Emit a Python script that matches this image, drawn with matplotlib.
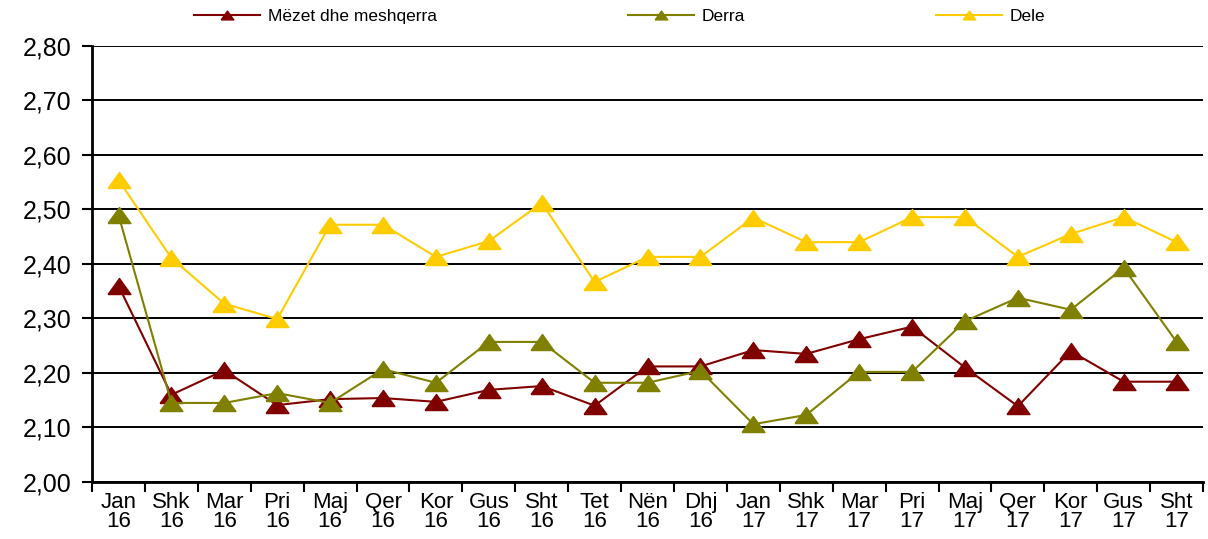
import matplotlib
matplotlib.use("Agg")
import matplotlib.pyplot as plt
import numpy as np

plt.rcParams['font.family'] = ['Liberation Sans', 'DejaVu Sans']

months = ['Jan', 'Shk', 'Mar', 'Pri', 'Maj', 'Qer', 'Kor', 'Gus', 'Sht', 'Tet', 'Nën', 'Dhj',
          'Jan', 'Shk', 'Mar', 'Pri', 'Maj', 'Qer', 'Kor', 'Gus', 'Sht']
years = ['16'] * 12 + ['17'] * 9
labels = [m + '\n' + y for m, y in zip(months, years)]

mezet = [2.36, 2.16, 2.205, 2.141, 2.152, 2.154, 2.147, 2.169, 2.176, 2.14, 2.212, 2.212,
         2.242, 2.235, 2.262, 2.285, 2.21, 2.139, 2.24, 2.184, 2.184]
derra = [2.49, 2.145, 2.145, 2.163, 2.145, 2.207, 2.182, 2.257, 2.257, 2.182, 2.182, 2.204,
         2.106, 2.123, 2.202, 2.202, 2.295, 2.338, 2.316, 2.393, 2.257]
dele = [2.554, 2.411, 2.327, 2.299, 2.472, 2.472, 2.413, 2.442, 2.512, 2.367, 2.413, 2.413,
        2.485, 2.440, 2.440, 2.486, 2.486, 2.413, 2.455, 2.486, 2.440]

series = [('Mëzet dhe meshqerra', mezet, '#800000'),
          ('Derra', derra, '#808000'),
          ('Dele', dele, '#FFCC00')]

# wide, flat triangle like the spreadsheet marker
tri = [(-1, -0.7), (1, -0.7), (0, 0.7), (-1, -0.7)]

fig = plt.figure(figsize=(12.08, 5.39), dpi=100)
ax = fig.add_axes([0.0762, 0.1058, 0.9197, 0.8089])

x = np.arange(len(labels))
for name, vals, color in series:
    ax.plot(x, vals, color=color, lw=1.5, marker=tri, ms=16.5, label=name, zorder=3)

ax.set_ylim(2.0, 2.8)
ax.set_yticks(np.arange(2.0, 2.81, 0.1))
ax.set_yticklabels([f'{v:.2f}'.replace('.', ',') for v in np.arange(2.0, 2.81, 0.1)], fontsize=18)
ax.yaxis.grid(True, color='black', lw=1.4)
ax.set_axisbelow(True)

ax.set_xlim(-0.5, len(labels) - 0.5)
ax.set_xticks(np.arange(-0.5, len(labels), 1.0))
ax.set_xticklabels([])
ax.set_xticks(x, minor=True)
ax.set_xticklabels(labels, minor=True, fontsize=16, linespacing=0.92)
ax.tick_params(axis='x', which='major', length=7, width=1.5, direction='out')
ax.tick_params(axis='x', which='minor', length=0, pad=7)
ax.tick_params(axis='y', length=7, width=1.5, direction='out', pad=8)

for s in ['top', 'right']:
    ax.spines[s].set_visible(False)
for s in ['left', 'bottom']:
    ax.spines[s].set_linewidth(2)

fig.legend(loc='upper left', bbox_to_anchor=(0.148, 1.012), ncol=3, frameon=False,
           fontsize=12.5, handlelength=3.8, handletextpad=0.45, columnspacing=11.0,
           markerscale=0.55)

fig.savefig('out.png', dpi=100)
